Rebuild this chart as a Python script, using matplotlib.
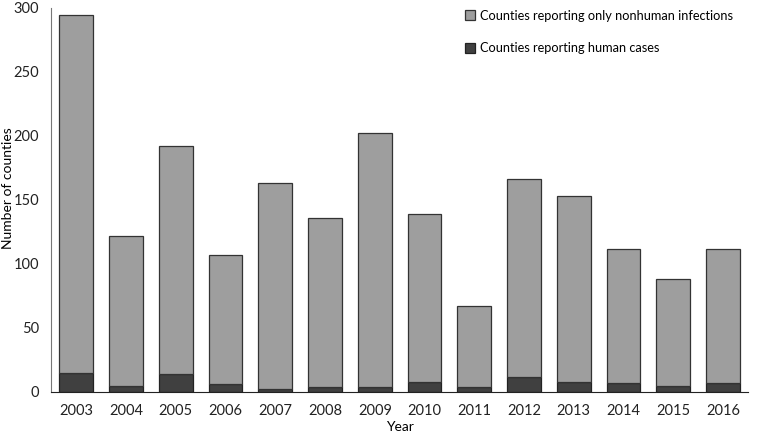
import matplotlib.pyplot as plt
import numpy as np

plt.rcParams['font.family'] = ['Lato', 'DejaVu Sans']

years = ["2003", "2004", "2005", "2006", "2007", "2008", "2009",
         "2010", "2011", "2012", "2013", "2014", "2015", "2016"]
total_counties = [294, 122, 192, 107, 163, 136, 202, 139, 67, 166, 153, 112, 88, 112]
human_cases = [15, 5, 14, 6, 2, 4, 4, 8, 4, 12, 8, 7, 5, 7]
nonhuman_only = [t - h for t, h in zip(total_counties, human_cases)]

fig, ax = plt.subplots(figsize=(7.57, 4.34), dpi=100)
fig.subplots_adjust(left=0.068, right=0.988, top=0.982, bottom=0.097)

x = np.arange(len(years))
w = 0.68
ax.bar(x, human_cases, w, color="#404040", edgecolor="#222222", linewidth=0.9,
       label="Counties reporting human cases")
ax.bar(x, nonhuman_only, w, bottom=human_cases, color="#9e9e9e", edgecolor="#333333",
       linewidth=0.9, label="Counties reporting only nonhuman infections")

ax.set_xlim(-0.5, len(years) - 0.5)
ax.set_ylim(0, 300)
ax.set_yticks(np.arange(0, 301, 50))
ax.set_xticks(x, years)
ax.tick_params(length=0, labelsize=10.5, colors="#222222")
ax.tick_params(axis="x", pad=9)
ax.tick_params(axis="y", pad=9)

for s in ["top", "right"]:
    ax.spines[s].set_visible(False)
ax.spines["left"].set_color("#777777")
ax.spines["bottom"].set_color("#222222")

ax.set_xlabel("Year", fontsize=10, labelpad=2)
ax.set_ylabel("Number of counties", fontsize=10)
ax.yaxis.set_label_coords(-0.054, 0.53)

handles, labels = ax.get_legend_handles_labels()
ax.legend(handles[::-1], labels[::-1], loc="upper right", frameon=False, fontsize=9.2,
          labelspacing=1.6, handlelength=0.8, handleheight=0.8, handletextpad=0.35,
          bbox_to_anchor=(0.995, 1.025))

fig.savefig("out.png")
